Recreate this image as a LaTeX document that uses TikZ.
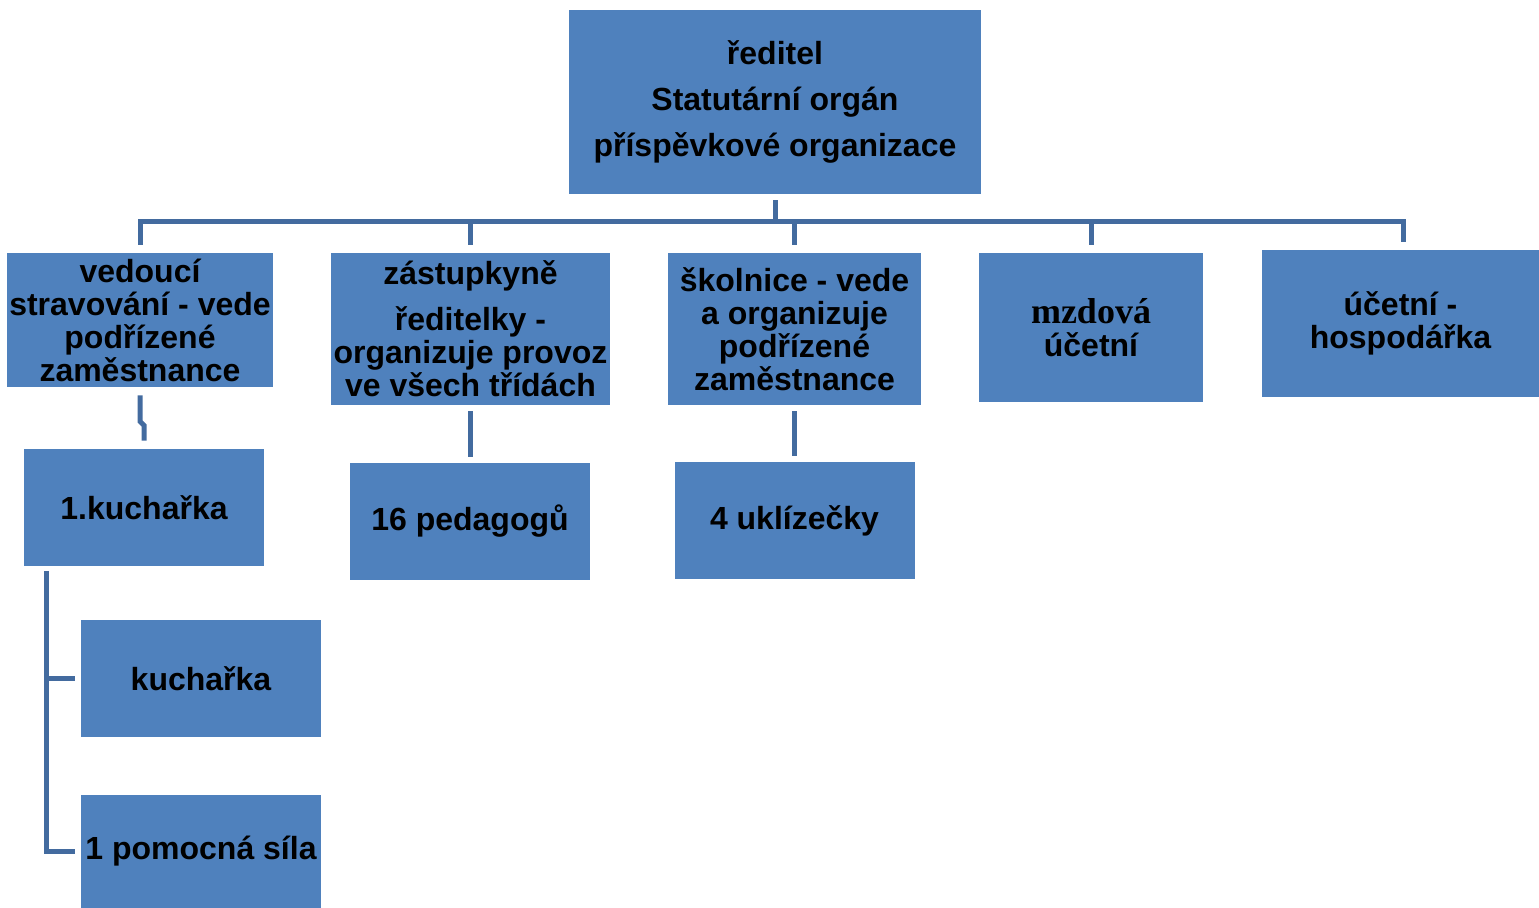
\documentclass[tikz,border=0pt]{standalone}
\usepackage{fontspec}
\setmainfont{Liberation Sans}
\newfontfamily\serifb{Liberation Serif}
\definecolor{boxblue}{HTML}{4F81BD}
\definecolor{connblue}{HTML}{436B9F}
\tikzset{
  box/.style={draw=none, fill=boxblue, inner sep=0pt, align=center,
    font=\fontsize{16}{16.5}\selectfont\bfseries},
  conn/.style={draw=connblue, line width=2.5pt}
}
\begin{document}
\begin{tikzpicture}[x=0.5pt,y=-0.5pt]
\useasboundingbox (0,0) rectangle (1539,908);
% boxes
\node[box, minimum width=206pt, minimum height=92pt, font=\fontsize{16}{23}\selectfont\bfseries] (top) at (775,102)
  {ředitel\\Statutární orgán\\příspěvkové organizace};
\node[box, minimum width=133pt, minimum height=67pt] (ved) at (140,320)
  {vedoucí\\stravování - vede\\podřízené\\zaměstnance};
\node[box, minimum width=139.5pt, minimum height=76pt] (zast) at (470.5,329)
  {zástupkyně\\[6.5pt]ředitelky -\\organizuje provoz\\ve všech třídách};
\node[box, minimum width=126.5pt, minimum height=76pt] (skol) at (794.5,329)
  {školnice - vede\\a organizuje\\podřízené\\zaměstnance};
\node[box, minimum width=112pt, minimum height=74.5pt] (mzd) at (1091,327.5)
  {{\serifb\fontsize{18}{16.5}\selectfont\bfseries mzdová}\\účetní};
\node[box, minimum width=138.5pt, minimum height=73.5pt] (uct) at (1400.5,323.5)
  {účetní -\\hospodářka};
\node[box, minimum width=120pt, minimum height=58.5pt] (kuch1) at (144,507.5)
  {1.kuchařka};
\node[box, minimum width=120pt, minimum height=58.5pt] (ped) at (470,521.5)
  {16 pedagogů};
\node[box, minimum width=120pt, minimum height=58.5pt] (ukl) at (794.5,520.5)
  {4 uklízečky};
\node[box, minimum width=120pt, minimum height=58.5pt] (kuch2) at (201,678.5)
  {kuchařka};
\node[box, minimum width=120pt, minimum height=56.5pt] (pom) at (201,851.5)
  {1 pomocná síla};
% connectors
\coordinate (busL) at (139,222);
\coordinate (busR) at (1403,222);
\coordinate (trunk) at (46,571);
\draw[conn] ([yshift=-3pt]top.south) -- (top.south |- busL);
\draw[conn] ([yshift=4pt]ved.north) |- (busR) -- ([yshift=4pt]uct.north -| busR);
\draw[conn] ([yshift=4pt]zast.north) -- (zast.north |- busL);
\draw[conn] ([yshift=4pt]skol.north) -- (skol.north |- busL);
\draw[conn] ([yshift=4pt]mzd.north) -- (mzd.north |- busL);
\draw[conn] ([yshift=-4pt]ved.south) -- ++(0,26) -- ++(4,4) -- ([yshift=4pt]kuch1.north);
\draw[conn] ([yshift=-3pt]zast.south -| ped.north) -- ([yshift=3pt]ped.north);
\draw[conn] ([yshift=-3pt]skol.south -| ukl.north) -- ([yshift=3pt]ukl.north);
\draw[conn] (trunk) |- ([xshift=-3pt]pom.west);
\draw[conn] ([xshift=-3pt]kuch2.west) -- (kuch2.west -| trunk);
\end{tikzpicture}
\end{document}
